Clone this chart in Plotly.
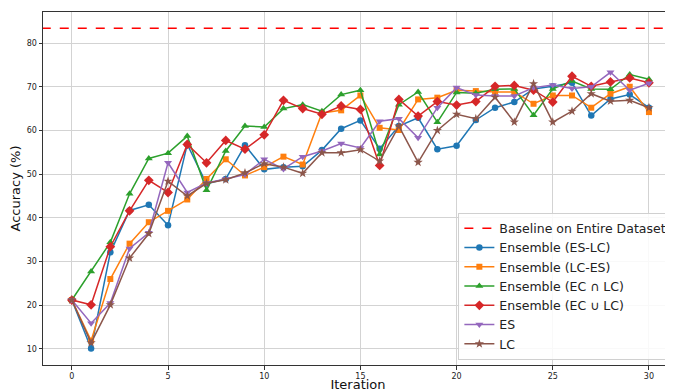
import plotly.graph_objects as go

iterations = list(range(31))
baseline = 83.4

es_lc = [21.2, 10.1, 32.1, 41.7, 43.0, 38.3, 56.8, 47.8, 48.9, 56.6, 51.1,
         51.6, 51.8, 55.5, 60.4, 62.3, 55.8, 61.0, 62.9, 55.7, 56.5,
         62.4, 65.2, 66.5, 69.5, 70.1, 70.9, 63.4, 67.2, 68.2, 65.2]
lc_es = [21.2, 11.9, 26.0, 34.1, 39.0, 41.6, 44.2, 48.9, 53.4, 49.7, 51.6,
         54.0, 52.2, 64.0, 64.6, 68.0, 60.6, 60.1, 67.1, 67.5, 69.2,
         69.0, 68.8, 68.8, 66.1, 68.0, 68.0, 65.2, 68.4, 70.0, 64.2]
ec_and_lc = [21.2, 27.7, 34.4, 45.5, 53.6, 54.8, 58.7, 46.3, 55.3, 61.0, 60.8,
             65.0, 65.9, 64.4, 68.2, 69.2, 54.5, 65.9, 68.8, 61.9, 68.7,
             68.5, 69.4, 69.5, 63.5, 69.5, 71.3, 69.5, 69.4, 72.8, 71.7]
ec_or_lc = [21.2, 20.1, 33.4, 41.6, 48.6, 45.8, 56.8, 52.6, 57.7, 55.7, 59.0,
            66.9, 65.0, 63.7, 65.6, 64.8, 52.0, 67.1, 63.3, 66.6, 65.8,
            66.6, 70.1, 70.3, 69.2, 66.5, 72.4, 70.1, 71.1, 72.0, 70.9]
es = [21.2, 15.9, 20.5, 33.0, 36.6, 52.6, 45.8, 48.0, 48.9, 49.9, 53.4,
      51.2, 54.0, 55.3, 57.0, 56.0, 62.1, 62.7, 58.3, 65.2, 69.8,
      68.1, 67.9, 67.9, 69.8, 70.4, 69.6, 70.0, 73.3, 69.2, 70.8]
lc = [21.2, 11.4, 20.1, 30.8, 36.4, 48.4, 45.0, 47.9, 48.7, 50.3, 52.4,
      51.6, 50.2, 54.9, 54.9, 55.6, 53.0, 61.0, 52.7, 60.0, 63.7,
      62.7, 67.6, 61.9, 70.7, 61.9, 64.4, 68.4, 66.7, 66.9, 65.2]

series = [
    ("Ensemble (ES-LC)", es_lc, "#1f77b4", "circle", 6.5),
    ("Ensemble (LC-ES)", lc_es, "#ff7f0e", "square", 6),
    ("Ensemble (EC ∩ LC)", ec_and_lc, "#2ca02c", "triangle-up", 7),
    ("Ensemble (EC ∪ LC)", ec_or_lc, "#d62728", "diamond", 7.5),
    ("ES", es, "#9467bd", "triangle-down", 7),
    ("LC", lc, "#8c564b", "star", 7),
]

x_range = [-1.5, 31.25]
y_range = [6.33, 87.1]

fig = go.Figure()
fig.add_trace(go.Scatter(
    x=[x_range[0] - 1, x_range[1] + 1], y=[baseline, baseline],
    mode="lines", name="Baseline on Entire Dataset",
    line=dict(color="#ff0000", width=1.5, dash="dash"),
))
for name, vals, color, sym, size in series:
    fig.add_trace(go.Scatter(
        x=iterations, y=vals, mode="lines+markers", name=name,
        line=dict(color=color, width=1.5),
        marker=dict(symbol=sym, size=size, color=color),
    ))

# the page body adds an 8px offset, so the figure is 8px smaller each way
fig.update_layout(
    width=665, height=384,
    margin=dict(l=35, r=0, t=4, b=27),
    paper_bgcolor="white", plot_bgcolor="white",
    font=dict(family="DejaVu Sans", color="#222"),
    showlegend=True,
    legend=dict(
        x=0.999, y=0.015, xanchor="right", yanchor="bottom",
        bgcolor="rgba(255,255,255,0.85)", bordercolor="#d0d0d0", borderwidth=1,
        font=dict(size=12.5, family="DejaVu Sans", color="#222"),
        tracegroupgap=0, itemwidth=30,
    ),
)
fig.update_xaxes(
    range=x_range, tickvals=[0, 5, 10, 15, 20, 25, 30], automargin=False,
    showgrid=True, gridcolor="#d3d3d3", gridwidth=1, zeroline=False,
    showline=True, linecolor="#333", linewidth=1, mirror=True,
    ticks="outside", ticklen=3.5, tickcolor="#333",
    tickfont=dict(size=8, family="DejaVu Sans", color="#222"),
    title=dict(text="Iteration", font=dict(size=13, family="DejaVu Sans", color="#111"), standoff=4),
)
fig.update_yaxes(
    range=y_range, tickvals=[10, 20, 30, 40, 50, 60, 70, 80], automargin=False,
    showgrid=True, gridcolor="#d3d3d3", gridwidth=1, zeroline=False,
    showline=True, linecolor="#333", linewidth=1, mirror=True,
    ticks="outside", ticklen=3.5, tickcolor="#333",
    tickfont=dict(size=8, family="DejaVu Sans", color="#222"),
    title=dict(text="Accuracy (%)", font=dict(size=13, family="DejaVu Sans", color="#111"), standoff=4),
)

fig.write_html("out.html")
